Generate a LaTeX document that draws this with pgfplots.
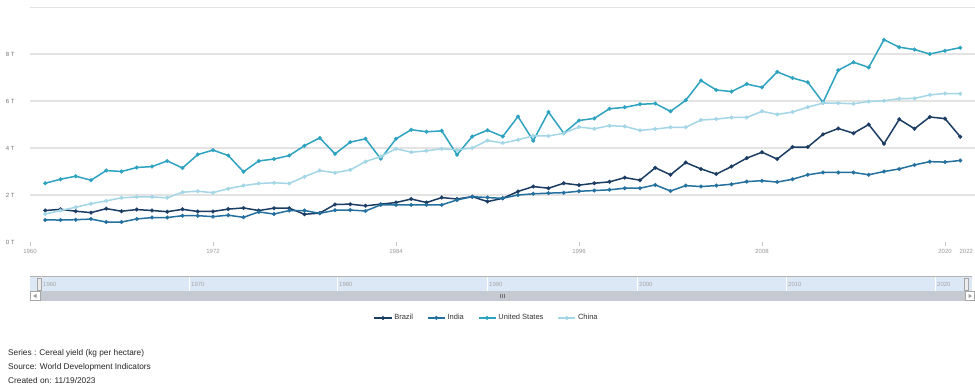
\documentclass[border=0pt]{standalone}
\usepackage{fontspec}
\setmainfont{Liberation Sans}
\usepackage{pgfplots}
\usepackage{pgfplotstable}
\pgfplotsset{compat=1.18}
\definecolor{cBrazil}{HTML}{1C3D63}
\definecolor{cIndia}{HTML}{24709F}
\definecolor{cUS}{HTML}{2EA3C0}
\definecolor{cChina}{HTML}{A3D6E6}
\definecolor{navblue}{HTML}{DCE8F6}
\definecolor{scrollgray}{HTML}{C5CAD2}
\definecolor{gridgray}{HTML}{E3E3E3}
\pgfplotstableread{
year brazil india us china
1961 1340 940 2500 1190
1962 1390 935 2670 1340
1963 1310 950 2800 1480
1964 1250 975 2630 1630
1965 1420 850 3040 1750
1966 1310 850 3000 1880
1967 1380 980 3170 1920
1968 1340 1040 3210 1920
1969 1290 1040 3450 1880
1970 1390 1120 3150 2120
1971 1300 1120 3720 2160
1972 1300 1080 3910 2100
1973 1400 1140 3680 2270
1974 1450 1050 2990 2400
1975 1340 1280 3450 2490
1976 1440 1190 3530 2520
1977 1440 1340 3680 2490
1978 1180 1340 4100 2780
1979 1230 1220 4430 3040
1980 1600 1350 3750 2950
1981 1610 1360 4250 3070
1982 1540 1320 4390 3420
1983 1610 1580 3540 3640
1984 1680 1580 4390 3970
1985 1830 1580 4780 3820
1986 1680 1580 4690 3880
1987 1890 1580 4730 3970
1988 1830 1790 3710 3920
1989 1930 1930 4490 4000
1990 1720 1890 4760 4320
1991 1860 1860 4490 4210
1992 2150 2000 5340 4350
1993 2360 2050 4310 4520
1994 2290 2080 5530 4510
1995 2500 2100 4630 4630
1996 2420 2160 5170 4890
1997 2500 2190 5260 4820
1998 2560 2220 5670 4950
1999 2740 2290 5730 4920
2000 2630 2290 5860 4750
2001 3160 2430 5890 4810
2002 2860 2170 5560 4880
2003 3380 2400 6030 4880
2004 3110 2360 6870 5190
2005 2890 2400 6470 5230
2006 3210 2460 6400 5300
2007 3570 2570 6720 5300
2008 3820 2610 6580 5560
2009 3530 2550 7240 5430
2010 4040 2670 6980 5530
2011 4040 2860 6800 5740
2012 4580 2960 5940 5910
2013 4830 2960 7310 5910
2014 4630 2960 7650 5880
2015 5000 2860 7430 5980
2016 4180 3000 8610 6010
2017 5220 3110 8290 6100
2018 4820 3280 8190 6110
2019 5320 3420 8000 6260
2020 5250 3400 8140 6320
2021 4480 3470 8270 6310
}\data

\begin{document}
\begin{tikzpicture}
\fill[white] (0pt,0pt) rectangle (975pt,-389pt);
\begin{axis}[
  at={(30pt,-242pt)}, anchor=south west,
  scale only axis, width=945.5pt, height=235pt,
  xmin=1960, xmax=2022, ymin=0, ymax=10000,
  axis line style={draw=none},
  xtick={1960,1972,1984,1996,2008,2020},
  xticklabels={1960,1972,1984,1996,2008,2020},
  extra x ticks={2022},
  extra x tick labels={2022},
  extra x tick style={xticklabel style={anchor=north east, xshift=1pt}},
  xtick pos=bottom, ytick pos=left,
  tick align=outside,
  major tick length=4pt,
  xtick style={gray!45, line width=0.5pt},
  ytick style={draw=none},
  ytick={2000,4000,6000,8000},
  yticklabels={2 T,4 T,6 T,8 T},
  extra y ticks={0},
  extra y tick labels={0 T},
  extra y tick style={grid=none},
  ymajorgrids,
  major grid style={gridgray, line width=1.2pt},
  /pgf/number format/assume math mode=true,
  xticklabel style={font=\fontsize{6}{7}\selectfont, text=gray!80},
  yticklabel style={font=\fontsize{6}{7}\selectfont, text=gray!90!black, xshift=-8pt},
  every axis plot/.append style={line width=1.5pt, mark=*, mark size=1.9pt,
    mark options={solid, line width=0.3pt}},
  legend columns=4,
  legend style={at={(0.483,-0.323)}, anchor=center, draw=none, fill=none,
    font=\fontsize{7.5}{9}\selectfont, text=black!80,
    /tikz/every even column/.append style={column sep=12pt}},
  legend cell align=left,
]
\draw[gridgray, line width=1.2pt] (rel axis cs:0,1) -- (rel axis cs:1,1);
\addplot[color=cBrazil] table[x=year,y=brazil]{\data};
\addlegendentry{Brazil}
\addplot[color=cIndia] table[x=year,y=india]{\data};
\addlegendentry{India}
\addplot[color=cUS] table[x=year,y=us]{\data};
\addlegendentry{United States}
\addplot[color=cChina] table[x=year,y=china]{\data};
\addlegendentry{China}
\end{axis}
% navigator
\fill[navblue] (30pt,-277pt) rectangle (972pt,-291pt);
\draw[gray!60, line width=0.8pt] (30pt,-276.5pt) -- (972pt,-276.5pt);
\foreach \yr/\xx in {1960/43,1970/191,1980/339,1990/489,2000/639,2010/788,2020/937} {
  \draw[white, line width=0.8pt] (\xx pt-2pt,-277pt) -- (\xx pt-2pt,-291pt);
  \node[anchor=west, inner sep=0pt, font=\fontsize{6}{7}\selectfont, text=gray!70] at (\xx pt,-284pt) {\yr};
}
\filldraw[fill=gray!15, draw=gray!70, line width=0.4pt] (37pt,-278pt) rectangle (41pt,-290pt);
\filldraw[fill=gray!15, draw=gray!70, line width=0.4pt] (964pt,-278pt) rectangle (968pt,-290pt);
\fill[scrollgray] (30pt,-291pt) rectangle (975pt,-301pt);
\filldraw[fill=white, draw=gray!70, line width=0.4pt] (30.5pt,-291.5pt) rectangle (40pt,-300.5pt);
\fill[gray!80] (33pt,-296pt) -- (36.5pt,-294pt) -- (36.5pt,-298pt) -- cycle;
\filldraw[fill=white, draw=gray!70, line width=0.4pt] (965pt,-291.5pt) rectangle (974.5pt,-300.5pt);
\fill[gray!80] (972pt,-296pt) -- (968.5pt,-294pt) -- (968.5pt,-298pt) -- cycle;
\foreach \dx in {-2,0,2} {
  \draw[gray!90!black, line width=0.4pt] (502pt+\dx pt,-294pt) -- (502pt+\dx pt,-298pt);
}
% footnote
\node[anchor=base west, inner sep=0pt, font=\fontsize{8.3}{10}\selectfont, text=black!85] at (8pt,-355pt) {Series : Cereal yield (kg per hectare)};
\node[anchor=base west, inner sep=0pt, font=\fontsize{8.3}{10}\selectfont, text=black!85] at (8pt,-369pt) {Source: World Development Indicators};
\node[anchor=base west, inner sep=0pt, font=\fontsize{8.3}{10}\selectfont, text=black!85] at (8pt,-383pt) {Created on: 11/19/2023};
\pgfresetboundingbox
\useasboundingbox (0pt,0pt) rectangle (975pt,-389pt);
\end{tikzpicture}
\end{document}
